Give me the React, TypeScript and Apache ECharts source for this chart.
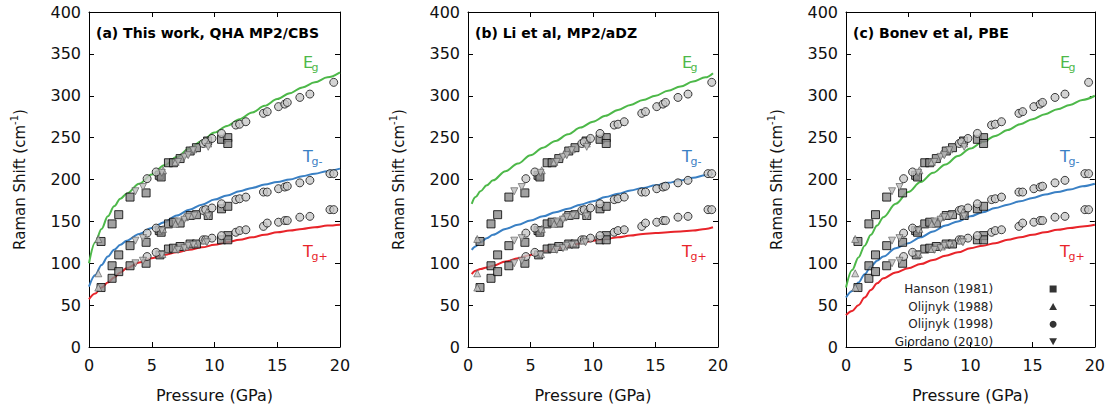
import { useEffect, useRef } from 'react';
import * as echarts from 'echarts';

// ---------- theory curves ----------
const pressureAC = [0, 0.5, 1, 1.5, 2, 2.5, 3, 4, 5, 6, 7, 8, 9, 10, 11, 12, 13, 14, 15, 16, 17, 18, 19, 20];
const egA = [100, 125, 141, 156, 168, 177, 183, 195, 206, 217, 227, 237, 246, 256, 264, 272, 280, 288, 296, 303, 310, 316, 322, 328];
const tgmA = [72, 86, 98, 108, 116, 122, 127, 135, 142, 149, 157, 164, 170, 176, 181, 186, 190, 194, 197, 200, 204, 207, 210, 213];
const tgpA = [57, 64, 71, 77, 83, 89, 94, 101, 106, 110, 113, 116, 119, 122, 125, 128, 131, 134, 137, 139, 141, 143, 145, 146];

const pressureB = [0.3, 0.6, 1, 1.5, 2, 3, 4, 5, 6, 7, 8, 9, 10, 11, 12, 13, 14, 15, 16, 17, 18, 19, 19.6];
const egB = [171, 179, 186, 193, 199, 210, 219, 229, 238, 246, 254, 262, 269, 276, 283, 289, 295, 300, 306, 311, 317, 322, 327];
const tgmB = [116, 120, 125, 130, 134, 141, 146, 151, 156, 161, 165, 170, 174, 179, 183, 187, 190, 193, 196, 199, 202, 205, 207];
const tgpB = [87, 91, 93, 95, 97, 102, 106, 110, 114, 117, 120, 124, 127, 129, 131, 133, 135, 136, 137, 138, 139, 141, 143];

const egC = [71, 92, 107, 121, 134, 145, 155, 171, 185, 197, 208, 218, 228, 237, 245, 252, 259, 266, 272, 278, 284, 289, 295, 300];
const tgmC = [59, 67, 77, 87, 96, 103, 108, 118, 124, 131, 138, 145, 150, 156, 161, 166, 170, 174, 178, 182, 185, 188, 192, 195];
const tgpC = [38, 43, 50, 59, 68, 76, 82, 89, 94, 99, 104, 109, 113, 118, 121, 124, 128, 131, 134, 137, 140, 142, 144, 146];

// ---------- experimental data [pressure GPa, shift cm-1] ----------
const hanson1981: [number, number][] = [
  [0.96, 126], [0.96, 71],
  [1.84, 147], [1.84, 97], [1.84, 82],
  [2.37, 158], [2.37, 110], [2.37, 90],
  [3.27, 179], [3.27, 121], [3.27, 97],
  [4.55, 184], [4.55, 125], [4.55, 100],
  [5.6, 205], [5.75, 203], [5.6, 139], [5.75, 137], [5.65, 110],
  [6.33, 220], [6.33, 147], [6.33, 117],
  [6.73, 220], [6.73, 149], [6.73, 118],
  [7.26, 225], [7.26, 148], [7.26, 120],
  [8.06, 234], [8.06, 157], [8.06, 123],
  [8.56, 238], [8.56, 158], [8.56, 123],
  [9.45, 246], [9.5, 157],
  [10.56, 248], [10.56, 165], [10.56, 128],
  [11.06, 250], [11.06, 243], [11.06, 168], [11.06, 133], [11.06, 128],
];
const olijnyk1988: [number, number][] = [
  [0.74, 129], [0.74, 88], [0.74, 71],
  [5.9, 211], [5.9, 141], [5.85, 111],
  [6.9, 221], [6.9, 147], [6.9, 117],
  [7.7, 231], [7.6, 155], [7.7, 120],
  [8.3, 236], [8.2, 157], [8.4, 124],
  [9.5, 243], [9.4, 161], [9.2, 127],
];
const olijnyk1998: [number, number][] = [
  [4.63, 201], [5.35, 209], [9.1, 243], [9.3, 245], [9.8, 249], [10.56, 255], [11.7, 265], [12.0, 266], [12.5, 269],
  [13.9, 279], [14.2, 281], [15.1, 287], [15.6, 290], [15.8, 292], [16.8, 298], [17.6, 302], [19.5, 316],
  [4.63, 136], [5.35, 142], [9.1, 163], [9.3, 164], [9.8, 166], [10.56, 171], [11.7, 176], [12.0, 177], [12.5, 179],
  [13.9, 185], [14.2, 185], [15.1, 189], [15.6, 191], [15.8, 192], [16.8, 196], [17.6, 199], [19.2, 207], [19.5, 207],
  [4.63, 108], [5.35, 113], [9.1, 128], [9.3, 128], [9.8, 130], [10.56, 133], [11.7, 137], [12.0, 139], [12.5, 140],
  [13.9, 144], [14.2, 148], [15.1, 149], [15.6, 151], [15.8, 151], [16.8, 155], [17.6, 156], [19.2, 164], [19.5, 164],
];
const giordano2010: [number, number][] = [
  [3.7, 186], [3.7, 127], [3.7, 100],
  [4.3, 191], [4.3, 130], [4.3, 103],
  [5.8, 208], [5.8, 139], [5.8, 110],
  [7.1, 221], [7.1, 150], [7.1, 116],
  [7.6, 227], [7.6, 152], [7.6, 118],
  [7.9, 229], [7.9, 155], [7.9, 121],
  [8.3, 235], [8.4, 157], [8.3, 122],
  [9.5, 239], [9.5, 156], [9.4, 125],
];

const panelTitles = ['(a) This work, QHA MP2/CBS', '(b) Li et al, MP2/aDZ', '(c) Bonev et al, PBE'];
const xTicks = { min: 0, max: 20, interval: 5 };
const yTicks = { min: 0, max: 400, interval: 50 };

const FONT = 'DejaVu Sans';
const GREEN = '#4db849';
const BLUE = '#3a80c4';
const RED = '#e8242a';

export default function App() {
  const ref = useRef<HTMLDivElement>(null);

  useEffect(() => {
    if (!ref.current) return;
    const chart = echarts.init(ref.current, undefined, { renderer: 'svg' });

    const panels = [
      { p: pressureAC, eg: egA, tgm: tgmA, tgp: tgpA },
      { p: pressureB, eg: egB, tgm: tgmB, tgp: tgpB },
      { p: pressureAC, eg: egC, tgm: tgmC, tgp: tgpC },
    ];
    const lefts = [89, 468, 846];
    const widths = [251, 250, 251];
    const zip = (xs: number[], ys: number[]) => xs.map((x, i) => [x, ys[i]]);

    const grid = lefts.map((l, i) => ({ left: l, width: widths[i], top: 12, height: 342 }));
    const axisLine = { show: true, onZero: false, lineStyle: { color: '#000', width: 1 } };
    const axisTick = { show: true, inside: true, length: 5, lineStyle: { color: '#000', width: 1 } };

    const xAxis: any[] = [];
    const yAxis: any[] = [];
    lefts.forEach((_, i) => {
      xAxis.push({
        gridIndex: i, type: 'value', position: 'bottom', ...xTicks,
        axisLine, axisTick, splitLine: { show: false },
        axisLabel: { fontSize: 16, fontFamily: FONT, color: '#111', margin: 10 },
        name: 'Pressure (GPa)', nameLocation: 'middle', nameGap: 40,
        nameTextStyle: { fontSize: 16, fontFamily: FONT, color: '#111' },
      });
      xAxis.push({
        gridIndex: i, type: 'value', position: 'top', ...xTicks,
        axisLine, axisTick, splitLine: { show: false }, axisLabel: { show: false },
      });
      yAxis.push({
        gridIndex: i, type: 'value', position: 'left', ...yTicks,
        axisLine, axisTick, splitLine: { show: false },
        axisLabel: { fontSize: 16, fontFamily: FONT, color: '#111', margin: 8 },
        name: 'Raman Shift (cm{sup|-1})', nameLocation: 'middle', nameGap: 59,
        nameTextStyle: {
          fontSize: 15, fontFamily: FONT, color: '#111', lineHeight: 21,
          rich: { sup: { fontSize: 10, fontFamily: FONT, color: '#111', verticalAlign: 'top', lineHeight: 10 } },
        },
      });
      yAxis.push({
        gridIndex: i, type: 'value', position: 'right', ...yTicks,
        axisLine, axisTick, splitLine: { show: false }, axisLabel: { show: false },
      });
    });

    const series: any[] = [];
    panels.forEach((pn, i) => {
      const ax = { xAxisIndex: 2 * i, yAxisIndex: 2 * i };
      [['Eg', pn.eg, GREEN], ['Tg-', pn.tgm, BLUE], ['Tg+', pn.tgp, RED]].forEach(([name, vals, color]) => {
        series.push({
          type: 'line', name: name as string, ...ax, data: zip(pn.p, vals as number[]),
          showSymbol: false, smooth: 0.35, smoothMonotone: 'x', z: 2,
          lineStyle: { color: color as string, width: 2 }, itemStyle: { color: color as string },
        });
      });
      series.push({
        type: 'scatter', name: 'Hanson (1981)', ...ax, data: hanson1981, symbol: 'rect', symbolSize: 8, z: 3,
        itemStyle: { color: '#8a8a8a', borderColor: '#000', borderWidth: 1 },
      });
      series.push({
        type: 'scatter', name: 'Olijnyk (1988)', ...ax, data: olijnyk1988, symbol: 'triangle', symbolSize: 7, z: 4,
        itemStyle: { color: '#c4c4c4', borderColor: '#555', borderWidth: 0.8 },
      });
      series.push({
        type: 'scatter', name: 'Olijnyk (1998)', ...ax, data: olijnyk1998, symbol: 'circle', symbolSize: 8, z: 3,
        itemStyle: { color: '#c8c8c8', borderColor: '#111', borderWidth: 1 },
      });
      series.push({
        type: 'scatter', name: 'Giordano (2010)', ...ax, data: giordano2010, symbol: 'triangle', symbolRotate: 180,
        symbolSize: 7, z: 4,
        itemStyle: { color: '#bdbdbd', borderColor: '#555', borderWidth: 0.8 },
      });
    });

    const graphic: any[] = [];
    lefts.forEach((l) => {
      const x = l + 214;
      const lab = (text: string, dx: number, y: number, size: number, color: string) => ({
        type: 'text', x: x + dx, y, silent: true,
        style: { text, fill: color, fontSize: size, fontFamily: FONT, align: 'left', verticalAlign: 'middle' },
      });
      graphic.push(lab('E', 0, 62, 16, GREEN), lab('g', 8.5, 67.5, 11, GREEN));
      graphic.push(lab('T', 0, 156, 16, BLUE), lab('g-', 8.5, 161.5, 11, BLUE));
      graphic.push(lab('T', 0, 251, 16, RED), lab('g+', 8.5, 256.5, 11, RED));
    });

    const title = panelTitles.map((t, i) => ({
      text: t, left: lefts[i] + 7, top: 26, padding: 0,
      textStyle: { fontSize: 14, fontWeight: 'bold', fontFamily: FONT, color: '#000' },
    }));

    chart.setOption({
      animation: false,
      backgroundColor: '#fff',
      textStyle: { fontFamily: FONT },
      title,
      grid,
      xAxis,
      yAxis,
      series,
      graphic,
      legend: {
        orient: 'vertical', align: 'right', right: 51, top: 282,
        itemWidth: 60, itemHeight: 7, itemGap: 3.6, padding: 0,
        symbolRotate: 0, selectedMode: false,
        textStyle: { fontSize: 12, fontFamily: FONT, color: '#222', lineHeight: 14, padding: [0, 25, 0, 0] },
        data: [
          { name: 'Hanson (1981)', icon: 'path://M0,0L10,0L10,10L0,10Z', itemStyle: { color: '#000', borderWidth: 0 } },
          { name: 'Olijnyk (1988)', icon: 'path://M5,0L10,9L0,9Z', itemStyle: { color: '#000', borderWidth: 0 } },
          { name: 'Olijnyk (1998)', icon: 'circle', itemStyle: { color: '#000', borderWidth: 0 } },
          { name: 'Giordano (2010)', icon: 'path://M0,0L10,0L5,9Z', itemStyle: { color: '#000', borderWidth: 0 } },
        ],
      },
    });

    return () => chart.dispose();
  }, []);

  return <div ref={ref} style={{ position: 'fixed', left: 0, top: 0, width: 1108, height: 408 }} />;
}
